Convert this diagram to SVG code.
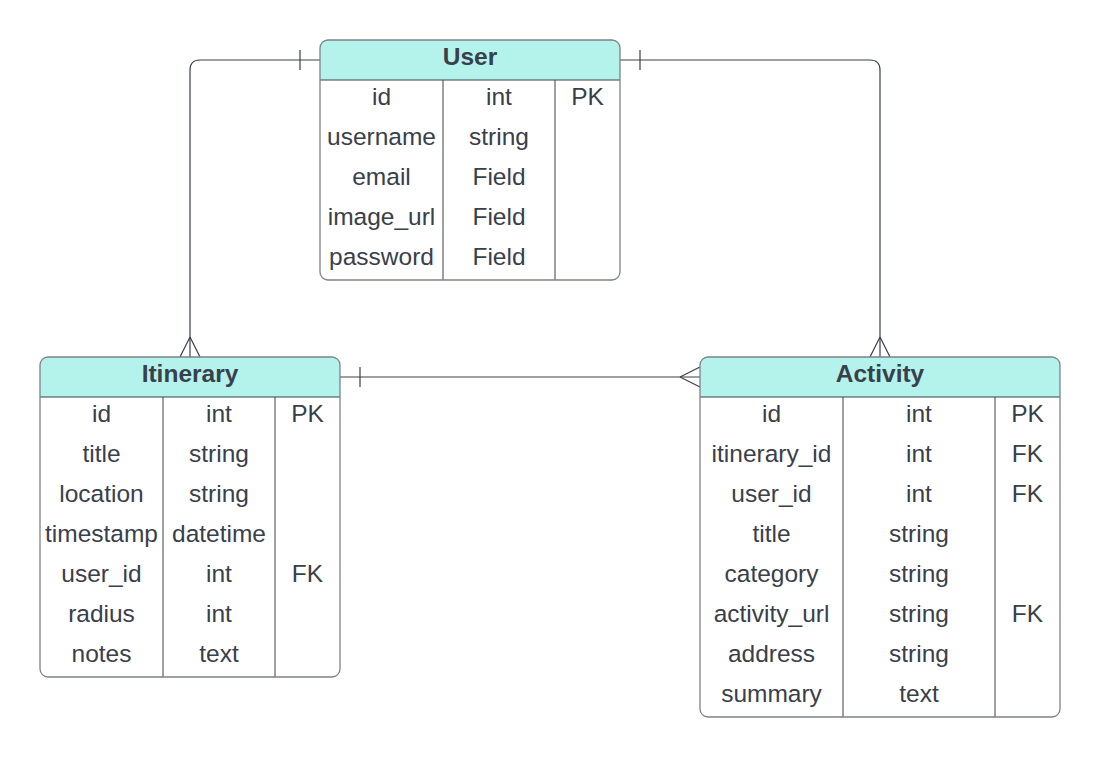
<svg xmlns="http://www.w3.org/2000/svg" width="1100" height="757" viewBox="0 0 1100 757">
<style>
.box{fill:none;stroke:#7d838b;stroke-width:1.3}
.hdr{fill:#b4f3eb}
.ln{stroke:#3a414a;stroke-width:1;fill:none}
.t{font-family:"Liberation Sans",Arial,sans-serif;font-size:24.5px;fill:#39404a;text-anchor:middle}
.h{font-family:"Liberation Sans",Arial,sans-serif;font-size:24.5px;font-weight:bold;fill:#39404a;text-anchor:middle}
.c{stroke:#3a414a;stroke-width:1.2;fill:none}
</style>
<rect width="1100" height="757" fill="#ffffff"/>
<g id="connectors">
<path class="c" d="M320,60 H200 Q190,60 190,70 V357"/>
<path class="c" d="M300,50 V70"/>
<path class="c" d="M190,337 L180,357 M190,337 L200,357"/>
<path class="c" d="M620,60 H870 Q880,60 880,70 V357"/>
<path class="c" d="M640,50 V70"/>
<path class="c" d="M880,337 L870,357 M880,337 L890,357"/>
<path class="c" d="M340,377 H700"/>
<path class="c" d="M360,367 V387"/>
<path class="c" d="M680,377 L700,367 M680,377 L700,387"/>
</g>
<g id="user">
<path class="hdr" d="M328,40 H612 Q620,40 620,48 V80 H320 V48 Q320,40 328,40 Z"/>
<line class="ln" x1="320" y1="80" x2="620" y2="80"/>
<line class="ln" x1="443" y1="80" x2="443" y2="280"/>
<line class="ln" x1="555" y1="80" x2="555" y2="280"/>
<rect class="box" x="320" y="40" width="300" height="240" rx="8"/>
<text class="h" x="470" y="65">User</text>
<text class="t" x="381.5" y="105">id</text><text class="t" x="499" y="105">int</text><text class="t" x="587.5" y="105">PK</text>
<text class="t" x="381.5" y="145">username</text><text class="t" x="499" y="145">string</text>
<text class="t" x="381.5" y="185">email</text><text class="t" x="499" y="185">Field</text>
<text class="t" x="381.5" y="225">image_url</text><text class="t" x="499" y="225">Field</text>
<text class="t" x="381.5" y="265">password</text><text class="t" x="499" y="265">Field</text>
</g>
<g id="itinerary">
<path class="hdr" d="M48,357 H332 Q340,357 340,365 V397 H40 V365 Q40,357 48,357 Z"/>
<line class="ln" x1="40" y1="397" x2="340" y2="397"/>
<line class="ln" x1="163" y1="397" x2="163" y2="677"/>
<line class="ln" x1="275" y1="397" x2="275" y2="677"/>
<rect class="box" x="40" y="357" width="300" height="320" rx="8"/>
<text class="h" x="190" y="382">Itinerary</text>
<text class="t" x="101.5" y="422">id</text><text class="t" x="219" y="422">int</text><text class="t" x="307.5" y="422">PK</text>
<text class="t" x="101.5" y="462">title</text><text class="t" x="219" y="462">string</text>
<text class="t" x="101.5" y="502">location</text><text class="t" x="219" y="502">string</text>
<text class="t" x="101.5" y="542">timestamp</text><text class="t" x="219" y="542">datetime</text>
<text class="t" x="101.5" y="582">user_id</text><text class="t" x="219" y="582">int</text><text class="t" x="307.5" y="582">FK</text>
<text class="t" x="101.5" y="622">radius</text><text class="t" x="219" y="622">int</text>
<text class="t" x="101.5" y="662">notes</text><text class="t" x="219" y="662">text</text>
</g>
<g id="activity">
<path class="hdr" d="M708,357 H1052 Q1060,357 1060,365 V397 H700 V365 Q700,357 708,357 Z"/>
<line class="ln" x1="700" y1="397" x2="1060" y2="397"/>
<line class="ln" x1="843" y1="397" x2="843" y2="717"/>
<line class="ln" x1="995" y1="397" x2="995" y2="717"/>
<rect class="box" x="700" y="357" width="360" height="360" rx="8"/>
<text class="h" x="880" y="382">Activity</text>
<text class="t" x="771.5" y="422">id</text><text class="t" x="919" y="422">int</text><text class="t" x="1027.5" y="422">PK</text>
<text class="t" x="771.5" y="462">itinerary_id</text><text class="t" x="919" y="462">int</text><text class="t" x="1027.5" y="462">FK</text>
<text class="t" x="771.5" y="502">user_id</text><text class="t" x="919" y="502">int</text><text class="t" x="1027.5" y="502">FK</text>
<text class="t" x="771.5" y="542">title</text><text class="t" x="919" y="542">string</text>
<text class="t" x="771.5" y="582">category</text><text class="t" x="919" y="582">string</text>
<text class="t" x="771.5" y="622">activity_url</text><text class="t" x="919" y="622">string</text><text class="t" x="1027.5" y="622">FK</text>
<text class="t" x="771.5" y="662">address</text><text class="t" x="919" y="662">string</text>
<text class="t" x="771.5" y="702">summary</text><text class="t" x="919" y="702">text</text>
</g>
</svg>
